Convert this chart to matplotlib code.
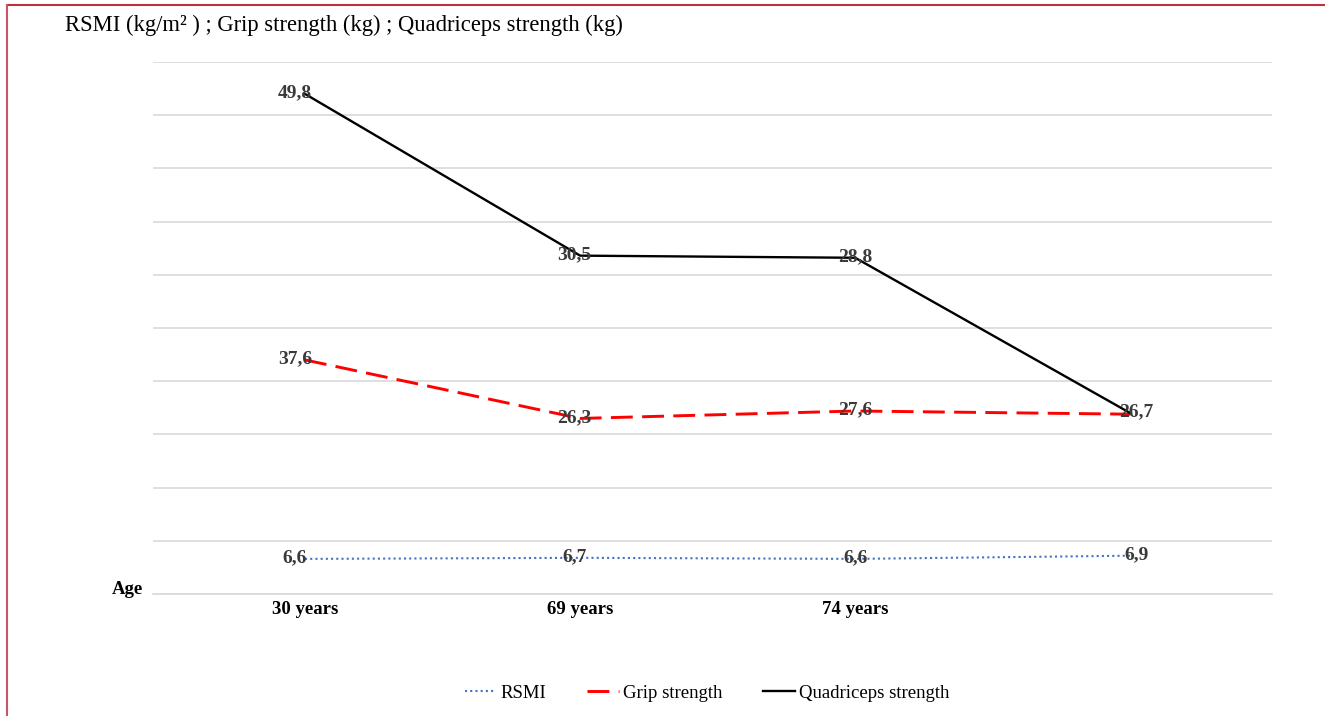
import matplotlib
matplotlib.use("Agg")
import matplotlib.pyplot as plt
from matplotlib.lines import Line2D

# ---------------- data ----------------
categories = ["30 years", "69 years", "74 years", ""]

# values printed as data labels
rsmi_values = [6.6, 6.7, 6.6, 6.9]
grip_values = [37.6, 26.3, 27.6, None]      # last grip label not shown (overlaps 26,7)
quad_values = [49.8, 30.5, 28.8, 26.7]

# heights at which the source chart draws each point (read on its 10-band grid, 0-50)
rsmi_height = [3.3, 3.4, 3.3, 3.6]
grip_height = [22.0, 16.5, 17.2, 16.9]
quad_height = [47.0, 31.8, 31.6, 17.0]

series_names = ["RSMI", "Grip strength", "Quadriceps strength"]
title_text = "RSMI (kg/m\u00b2 ) ; Grip strength (kg) ; Quadriceps strength (kg)"

# ---------------- style ----------------
plt.rcParams["font.family"] = ["Liberation Serif", "DejaVu Serif"]

W, H = 1325, 716
fig = plt.figure(figsize=(W / 100, H / 100), dpi=100)
ax = fig.add_axes([153 / W, 1 - 594 / H, (1272 - 153) / W, (594 - 62) / H])

x = list(range(len(categories)))
styles = [
    dict(color="#4472C4", lw=1.5, linestyle=(0, (1, 1.5))),
    dict(color="#FF0000", lw=2.1, linestyle=(0, (7.5, 3.2))),
    dict(color="black", lw=1.7, linestyle="-"),
]
heights = [rsmi_height, grip_height, quad_height]
values = [rsmi_values, grip_values, quad_values]

handles = []
for name, h, st in zip(series_names, heights, styles):
    ln, = ax.plot(x, h, label=name, zorder=3, **st)
    handles.append(ln)

# data labels
col_dx = [-10, -6, 0, 6]
for h, vals in zip(heights, values):
    for i, (yy, v) in enumerate(zip(h, vals)):
        if v is None:
            continue
        ax.annotate(f"{v:.1f}".replace(".", ","), (x[i], yy),
                    xytext=(col_dx[i], 1), textcoords="offset pixels",
                    ha="center", va="center", fontsize=14, fontweight="bold",
                    color="#3a3a3a", zorder=5)

ax.set_ylim(0, 50)
ax.set_yticks(range(0, 51, 5))
ax.set_yticklabels([])
ax.set_xlim(-0.5525, 3.515)
ax.set_xticks(x)
ax.set_xticklabels(categories, fontsize=13.5, fontweight="bold")
ax.tick_params(axis="both", length=0)
ax.tick_params(axis="x", pad=5)
ax.grid(axis="y", color="#d9d9d9", lw=1.2)
ax.set_axisbelow(True)
for s in ["top", "left", "right"]:
    ax.spines[s].set_visible(False)
ax.spines["bottom"].set_color("#d9d9d9")
ax.spines["bottom"].set_linewidth(1.2)

fig.text(65 / W, 1 - 25 / H, title_text, fontsize=16.3, ha="left", va="center")
fig.text(127 / W, 1 - 590 / H, "Age", fontsize=13.5, fontweight="bold",
         ha="center", va="center")

fig.legend(handles=handles, loc="center", bbox_to_anchor=(707 / W, 1 - 693 / H),
           ncol=3, frameon=False, fontsize=13.5, handlelength=1.7,
           handletextpad=0.2, columnspacing=2.2)

# figure border (top and left)
fig.add_artist(Line2D([7 / W, 1], [1 - 5 / H, 1 - 5 / H], color="#c0303c",
                      lw=1.5, transform=fig.transFigure))
fig.add_artist(Line2D([7 / W, 7 / W], [0, 1 - 5 / H], color="#c8566b",
                      lw=1.5, transform=fig.transFigure))

fig.savefig("out.png", dpi=100, facecolor="white")
